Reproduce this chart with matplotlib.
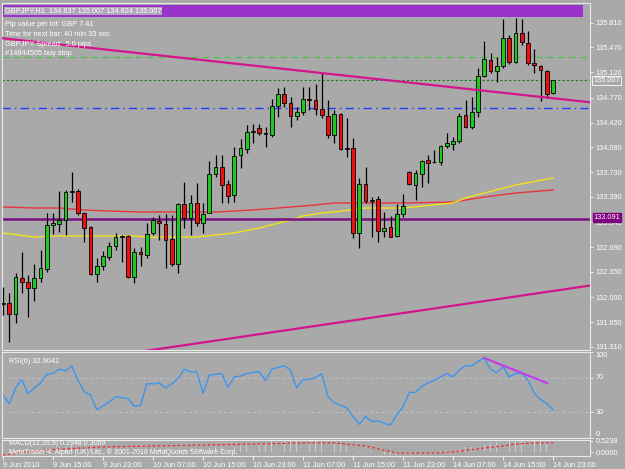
import numpy as np
import matplotlib.pyplot as plt
from matplotlib.patches import Rectangle

plt.rcParams['font.family'] = ['Liberation Sans', 'DejaVu Sans']

W, H = 625, 469
BG = '#a9a9a9'

# GBPJPY H1 candles, 9 Jun 2010 07:00 .. 14 Jun 2010 23:00
opens = [131.903, 131.917, 131.764, 132.264, 132.208, 132.125, 132.264, 132.389, 133.000, 133.014,
         133.069, 133.458, 133.472, 133.167, 132.972, 132.319, 132.431, 132.556, 132.708, 132.833,
         132.847, 132.278, 132.625, 132.583, 132.889, 133.056, 133.014, 132.806, 132.458, 133.292,
         133.097, 133.306, 133.028, 133.167, 133.708, 133.806, 133.569, 133.417, 133.972, 134.056,
         134.292, 134.347, 134.278, 134.250, 134.653, 134.819, 134.694, 134.514, 134.569, 134.750,
         134.736, 134.611, 134.514, 134.250, 134.542, 134.069, 134.069, 132.889, 133.569, 133.333,
         133.361, 132.917, 132.972, 132.847, 133.153, 133.736, 133.556, 133.708, 133.903, 133.875,
         133.875, 134.097, 134.125, 134.167, 134.528, 134.361, 134.569, 135.069, 135.292, 135.139,
         135.208, 135.597, 135.264, 135.667, 135.528, 135.250, 135.208, 135.139, 134.837]
highs = [132.139, 132.056, 132.333, 132.625, 132.306, 132.458, 132.653, 133.167, 133.167, 133.472,
         133.486, 133.736, 133.500, 133.180, 132.980, 132.542, 132.639, 132.764, 132.889, 132.861,
         132.861, 132.681, 132.694, 133.028, 133.111, 133.139, 133.153, 133.139, 133.306, 133.597,
         133.417, 133.583, 133.306, 133.889, 133.972, 133.972, 133.625, 134.083, 134.194, 134.389,
         134.403, 134.403, 134.361, 134.750, 134.903, 134.917, 134.778, 134.639, 134.917, 134.917,
         134.958, 135.125, 134.736, 134.597, 134.556, 134.486, 134.208, 133.653, 133.806, 133.389,
         133.403, 133.181, 133.125, 133.292, 133.431, 133.745, 133.764, 133.903, 133.972, 134.042,
         134.111, 134.278, 134.222, 134.556, 134.736, 134.778, 135.181, 135.556, 135.389, 135.333,
         135.861, 135.639, 135.875, 135.861, 135.694, 135.444, 135.222, 135.153, 135.007]
lows = [131.750, 131.375, 131.639, 132.056, 131.722, 131.944, 132.208, 132.347, 132.875, 132.903,
        132.861, 133.319, 133.139, 132.764, 132.306, 132.208, 132.375, 132.514, 132.653, 132.486,
        132.264, 132.194, 132.431, 132.542, 132.861, 132.792, 132.403, 132.431, 132.333, 132.958,
        132.861, 132.986, 132.889, 133.160, 133.667, 133.306, 133.306, 133.319, 133.792, 134.000,
        134.139, 134.250, 134.083, 134.222, 134.500, 134.639, 134.361, 134.458, 134.528, 134.597,
        134.528, 134.486, 134.208, 134.139, 134.042, 133.944, 132.819, 132.681, 133.306, 132.833,
        132.764, 132.833, 132.830, 132.833, 133.111, 133.556, 133.347, 133.528, 133.583, 133.861,
        133.833, 134.069, 134.042, 134.139, 134.347, 134.333, 134.500, 135.056, 135.111, 134.986,
        135.181, 135.236, 135.250, 135.500, 135.222, 135.111, 134.722, 134.764, 134.824]
closes = [131.910, 131.764, 132.278, 132.208, 132.125, 132.264, 132.403, 133.000, 133.028, 133.069,
          133.458, 133.472, 133.167, 132.958, 132.319, 132.431, 132.569, 132.708, 132.833, 132.847,
          132.278, 132.625, 132.597, 132.875, 133.069, 133.028, 132.792, 132.458, 133.292, 133.097,
          133.306, 133.028, 133.153, 133.708, 133.806, 133.556, 133.403, 133.958, 134.069, 134.292,
          134.306, 134.278, 134.264, 134.653, 134.819, 134.694, 134.514, 134.569, 134.750, 134.736,
          134.611, 134.528, 134.250, 134.542, 134.056, 134.056, 132.889, 133.569, 133.333, 133.347,
          132.917, 132.958, 132.833, 133.153, 133.264, 133.569, 133.722, 133.889, 133.861, 133.870,
          134.097, 134.139, 134.167, 134.514, 134.361, 134.569, 135.069, 135.306, 135.139, 135.208,
          135.597, 135.264, 135.667, 135.542, 135.250, 135.222, 135.153, 134.819, 135.007]

# moving averages (bar index, price)
ma_red_idx = [0, 5, 9, 13, 17, 22, 26, 30, 34, 37, 42, 46, 48, 50, 53, 64, 72, 77, 82, 88]
ma_red = [133.250, 133.236, 133.236, 133.208, 133.194, 133.181, 133.181, 133.181, 133.181, 133.194,
          133.222, 133.250, 133.264, 133.278, 133.306, 133.306, 133.319, 133.389, 133.444, 133.486]
ma_yel_idx = [0, 5, 8, 11, 21, 23, 31, 37, 41, 46, 48, 51, 53, 58, 64, 72, 74, 77, 82, 88]
ma_yel = [132.889, 132.833, 132.847, 132.847, 132.847, 132.833, 132.833, 132.889, 132.958, 133.069,
          133.125, 133.167, 133.181, 133.236, 133.236, 133.306, 133.375, 133.444, 133.556, 133.653]

# RSI(6)
rsi = [50, 40, 58, 68, 52, 58, 64, 74, 75, 80, 78, 84, 67, 54, 50, 33, 37, 42, 48, 47,
       46, 37, 38, 63, 63, 64, 58, 63, 69, 80, 77, 77, 52, 73, 74, 75, 59, 71, 72, 75,
       76, 77, 67, 80, 82, 84, 79, 58, 68, 68, 70, 75, 48, 41, 38, 35, 25, 16, 25, 19,
       20, 17, 15, 27, 36, 53, 53, 60, 64, 67, 71, 75, 71, 79, 84, 84, 89, 93, 80, 76,
       83, 71, 75, 75, 67, 52, 45, 40, 33]

# MACD(12,26,9)
macd_main = [-0.10, -0.12, -0.08, -0.02, 0.00, 0.02, 0.05, 0.12, 0.22, 0.26, 0.30, 0.36, 0.36, 0.32,
             0.26, 0.16, 0.12, 0.10, 0.10, 0.10, 0.10, 0.06, 0.06, 0.08, 0.12, 0.16, 0.16, 0.12,
             0.10, 0.16, 0.16, 0.18, 0.16, 0.18, 0.24, 0.26, 0.24, 0.22, 0.28, 0.32, 0.38, 0.42,
             0.44, 0.50, 0.54, 0.56, 0.54, 0.52, 0.52, 0.52, 0.50, 0.46, 0.44, 0.38, 0.36, 0.28,
             0.22, 0.06, 0.00, -0.04, -0.08, -0.12, -0.14, -0.14, -0.12, -0.06, -0.04, -0.02,
             0.00, 0.02, 0.04, 0.08, 0.12, 0.16, 0.22, 0.26, 0.30, 0.38, 0.44, 0.48, 0.50, 0.54,
             0.54, 0.56, 0.56, 0.54, 0.52, 0.48, 0.44]
sig_idx = [0, 4, 8, 16, 32, 48, 53, 58, 63, 69, 72, 77, 80, 82, 85, 88]
sig_vals = [-0.14, 0.00, 0.12, 0.24, 0.33, 0.43, 0.43, 0.29, -0.05, -0.05, 0.00, 0.19, 0.29, 0.38, 0.43, 0.43]

price_ticks = [135.810, 135.470, 135.120, 134.770, 134.420, 134.080, 133.730,
               133.390, 133.040, 132.690, 132.350, 132.000, 131.650, 131.310]
time_idx = [0, 8, 16, 24, 32, 40, 48, 56, 64, 72, 80, 88]
time_labels = ['9 Jun 2010', '9 Jun 15:00', '9 Jun 23:00', '10 Jun 07:00', '10 Jun 15:00',
               '10 Jun 23:00', '11 Jun 07:00', '11 Jun 15:00', '11 Jun 23:00',
               '14 Jun 07:00', '14 Jun 15:00', '14 Jun 23:00']

# trend lines (bar index, price)
down_line = ([-0.5, 94.0], [135.597, 134.704])
up_line = ([0.0, 94.0], [130.96, 132.16])
rsi_line = ([77, 87], [93, 64])

bid = 135.007
tp_level = 135.333
order_level = 134.621
hline_level = 133.083

FS = 5.3
XL = (-0.16, 93.92)


def rect(x0, y0, x1, y1):
    return [x0 / W, 1 - y1 / H, (x1 - x0) / W, (y1 - y0) / H]


def style(ax):
    ax.set_facecolor(BG)
    for s in ax.spines.values():
        s.set_color('#e8e8e8')
        s.set_linewidth(0.8)
    ax.yaxis.tick_right()
    ax.tick_params(colors='white', labelcolor='white', labelsize=FS, length=2, width=0.6, pad=2)
    ax.set_xlim(*XL)


fig = plt.figure(figsize=(W / 100, H / 100), dpi=100, facecolor=BG)

# ---------------- main price panel
ax = fig.add_axes(rect(2, 3, 590, 350))
style(ax)
ax.set_ylim(136.125 - 350 / 72, 136.125 - 3 / 72)
ax.set_yticks(price_ticks)
ax.set_yticklabels(['%.3f' % p for p in price_ticks])
ax.set_xticks([])

idx = np.arange(len(opens))
o = np.array(opens); c = np.array(closes)
up = c >= o
ax.vlines(idx, lows, highs, color='black', lw=0.9, zorder=3)
body = np.maximum(np.abs(c - o), 0.006)
ax.bar(idx, body, bottom=np.minimum(o, c), width=0.6,
       color=np.where(up, '#22c822', '#ee1010'), edgecolor='black', linewidth=0.6, zorder=4)

ax.plot(ma_red_idx, ma_red, color='#e8343c', lw=1.0, zorder=2)
ax.plot(ma_yel_idx, ma_yel, color='#f2e21a', lw=1.0, zorder=2)

ax.plot(*down_line, color='#d4148c', lw=1.6, zorder=5)
ax.plot(*up_line, color='#d4148c', lw=1.6, zorder=5)
ax.axhline(hline_level, color='#7a0f80', lw=1.8, zorder=2)
ax.axhline(tp_level, color='#3cc83c', lw=0.8, ls=(0, (6, 4)), zorder=1)
ax.axhline(bid, color='#108010', lw=0.8, ls=(0, (2, 2)), zorder=1)
ax.axhline(order_level, color='#1e3cff', lw=1.0, ls=(0, (6, 3, 1, 3)), zorder=1)

# price boxes on the right
bt = ax.get_yaxis_transform()
ax.text(1.006, bid, '%.3f' % bid, transform=bt, fontsize=FS, color='white', va='center', ha='left',
        bbox=dict(boxstyle='square,pad=0.15', fc=BG, ec='white', lw=0.6), zorder=6, clip_on=False)
ax.text(1.006, hline_level + 0.02, '133.091', transform=bt, fontsize=FS, color='white',
        va='center', ha='left', bbox=dict(boxstyle='square,pad=0.1', fc='#800080', ec='#800080'),
        zorder=6, clip_on=False)

# header bar and info text
fig.patches.append(Rectangle((3 / W, 1 - 17 / H), 580 / W, 12 / H, transform=fig.transFigure,
                             fc='#9933cc', ec='none', zorder=0))
fig.text(5 / W, 1 - 11 / H, 'GBPJPY,H1  134.837 135.007 134.824 135.007', fontsize=FS,
         color='white', va='center', ha='left',
         bbox=dict(boxstyle='square,pad=0.1', fc='#b0a8b8', ec='none'))
info = ['Pip value per lot: GBP 7.41', 'Time for next bar: 40 min 33 sec',
        'GBPJPY Spread:  5.0 pips', '#14844505 buy stop']
for k, t in enumerate(info):
    fig.text(5 / W, 1 - (25 + 9.5 * k) / H, t, fontsize=FS, color='white', va='center', ha='left')

# ---------------- RSI panel
ar = fig.add_axes(rect(2, 352, 590, 438))
style(ar)
ar.set_ylim(0, 100)
ar.set_xticks([])
ar.set_yticks([0, 30, 70, 100])
ar.set_yticklabels(['0', '30', '70', '100'])
for lab, va in zip(ar.get_yticklabels(), ['bottom', 'center', 'center', 'top']):
    lab.set_va(va)
for lv in (30, 70):
    ar.axhline(lv, color='#b8c0d0', lw=0.7, ls=(0, (3, 3)))
ar.plot(idx, rsi, color='#3c96f0', lw=1.0)
ar.plot(*rsi_line, color='#c040e8', lw=1.6)
ar.text(0.012, 0.93, 'RSI(6) 32.9042', transform=ar.transAxes, fontsize=FS, color='white',
        va='top', ha='left')

# ---------------- MACD panel
am = fig.add_axes(rect(2, 440, 590, 456))
style(am)
am.set_ylim(-0.19, 0.571)
am.bar(idx, macd_main, width=0.15, color='#c8cce0', zorder=1)
am.plot(sig_idx, sig_vals, color='#ff2020', lw=0.9, ls=(0, (2, 2)), zorder=2)
am.set_yticks([0.5238, 0.0])
am.set_yticklabels(['0.5238', '0.0000'])
am.set_xticks(time_idx)
am.set_xticklabels(time_labels, ha='left')
am.tick_params(axis='x', length=3, pad=1)
am.text(0.012, 0.98, 'MACD(12,26,9) 0.2948 0.3069', transform=am.transAxes, fontsize=FS - 0.3,
        color='white', va='top', ha='left')
am.text(0.012, 0.02, 'MetaTrader 4, Alpari (UK) Ltd., \u00a9 2001-2010 MetaQuotes Software Corp.',
        transform=am.transAxes, fontsize=FS - 0.3, color='white', va='bottom', ha='left')

fig.savefig('out.png', dpi=100, facecolor=BG)
